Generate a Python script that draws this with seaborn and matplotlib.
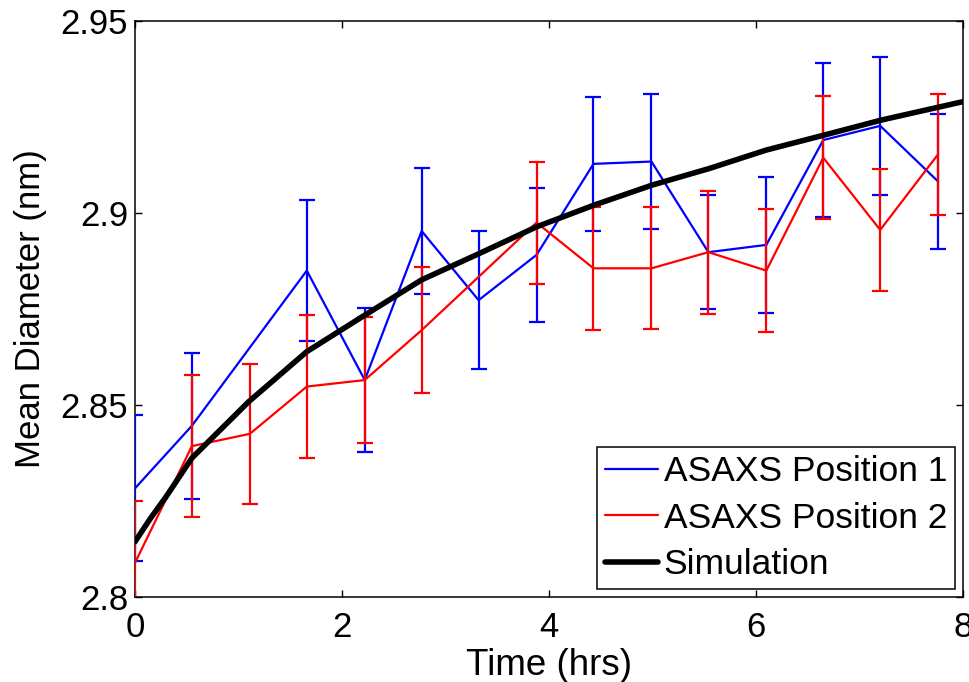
import matplotlib
matplotlib.use("Agg")
import matplotlib.pyplot as plt
import seaborn as sns
import pandas as pd

# ---- data ----
t_pos1 = [0, 0.55, 1.66, 2.22, 2.77, 3.32, 3.88, 4.43, 4.99, 5.54, 6.10, 6.65, 7.20, 7.76]
d_pos1 = [2.8283, 2.8446, 2.8850, 2.8565, 2.8953, 2.8773, 2.8891, 2.9128, 2.9134,
          2.8898, 2.8917, 2.9190, 2.9227, 2.9082]
e_pos1 = [0.0190, 0.0190, 0.0184, 0.0187, 0.0164, 0.0179, 0.0175, 0.0174, 0.0175,
          0.0148, 0.0178, 0.0200, 0.0180, 0.0175]

t_pos2 = [0, 0.55, 1.11, 1.66, 2.22, 2.77, 3.88, 4.43, 4.99, 5.54, 6.10, 6.65, 7.20, 7.76]
d_pos2 = [2.8089, 2.8393, 2.8425, 2.8548, 2.8565, 2.8695, 2.8975, 2.8856, 2.8856,
          2.8898, 2.8850, 2.9144, 2.8956, 2.9153]
e_pos2 = [0.0162, 0.0184, 0.0183, 0.0187, 0.0164, 0.0164, 0.0159, 0.0160, 0.0159,
          0.0160, 0.0160, 0.0160, 0.0158, 0.0157]

t_sim = [0, 0.15, 0.30, 0.55, 1.10, 1.66, 2.22, 2.77, 3.33, 3.88, 4.44, 5.00, 5.55,
         6.10, 6.66, 7.21, 8.00]
d_sim = [2.8144, 2.8205, 2.8261, 2.8362, 2.8509, 2.8639, 2.8734, 2.8826, 2.8895,
         2.8964, 2.9021, 2.9073, 2.9116, 2.9164, 2.9203, 2.9242, 2.9290]

labels = ["ASAXS Position 1", "ASAXS Position 2", "Simulation"]
x_ticks = [0, 2, 4, 6, 8]
y_ticks = [2.8, 2.85, 2.9, 2.95]
y_ticklabels = ["2.8", "2.85", "2.9", "2.95"]

# ---- plotting ----
sns.set_style("ticks")
plt.rcParams["font.family"] = ["Liberation Sans", "DejaVu Sans"]
plt.rcParams["text.color"] = "black"
plt.rcParams["axes.labelcolor"] = "black"
plt.rcParams["xtick.color"] = "black"
plt.rcParams["ytick.color"] = "black"

fig = plt.figure(figsize=(9.69, 6.82), dpi=100)
ax = fig.add_axes([0.1393, 0.1246, 0.8545, 0.8446])

df1 = pd.DataFrame({"t": t_pos1, "d": d_pos1})
df2 = pd.DataFrame({"t": t_pos2, "d": d_pos2})
dfs = pd.DataFrame({"t": t_sim, "d": d_sim})

sns.lineplot(data=df1, x="t", y="d", ax=ax, color="#0000ff", lw=1.6,
             label=labels[0], sort=False, zorder=3)
ax.errorbar(t_pos1, d_pos1, yerr=e_pos1, fmt="none", ecolor="#0000ff",
            elinewidth=1.6, capsize=6, capthick=1.6, zorder=3)

sns.lineplot(data=df2, x="t", y="d", ax=ax, color="#ff0000", lw=1.6,
             label=labels[1], sort=False, zorder=4)
ax.errorbar(t_pos2, d_pos2, yerr=e_pos2, fmt="none", ecolor="#ff0000",
            elinewidth=1.6, capsize=6, capthick=1.6, zorder=4)

sns.lineplot(data=dfs, x="t", y="d", ax=ax, color="black", lw=4.0,
             label=labels[2], sort=False, zorder=5)

ax.set_xlim(0, 8)
ax.set_ylim(2.8, 2.95)
ax.set_xticks(x_ticks)
ax.set_xticklabels([str(v) for v in x_ticks])
ax.set_yticks(y_ticks)
ax.set_yticklabels(y_ticklabels)

ax.tick_params(direction="in", length=5, width=1, labelsize=25, top=True,
               right=True, colors="black")
ax.tick_params(axis="y", pad=5)
ax.tick_params(axis="x", pad=10)
for s in ax.spines.values():
    s.set_visible(True)
    s.set_linewidth(1.1)
    s.set_color("black")

ax.set_xlabel("Time (hrs)", fontsize=26.5, labelpad=3)
ax.set_ylabel("Mean Diameter (nm)", fontsize=25, labelpad=10)

leg = ax.legend(loc="lower right", fontsize=25.5, frameon=True, fancybox=False,
                edgecolor="black", framealpha=1, handlelength=1.5,
                handletextpad=0.15, labelspacing=0.38, borderpad=0.22,
                borderaxespad=0.23)
leg.get_frame().set_linewidth(1.1)

fig.savefig("out.png", dpi=100)
